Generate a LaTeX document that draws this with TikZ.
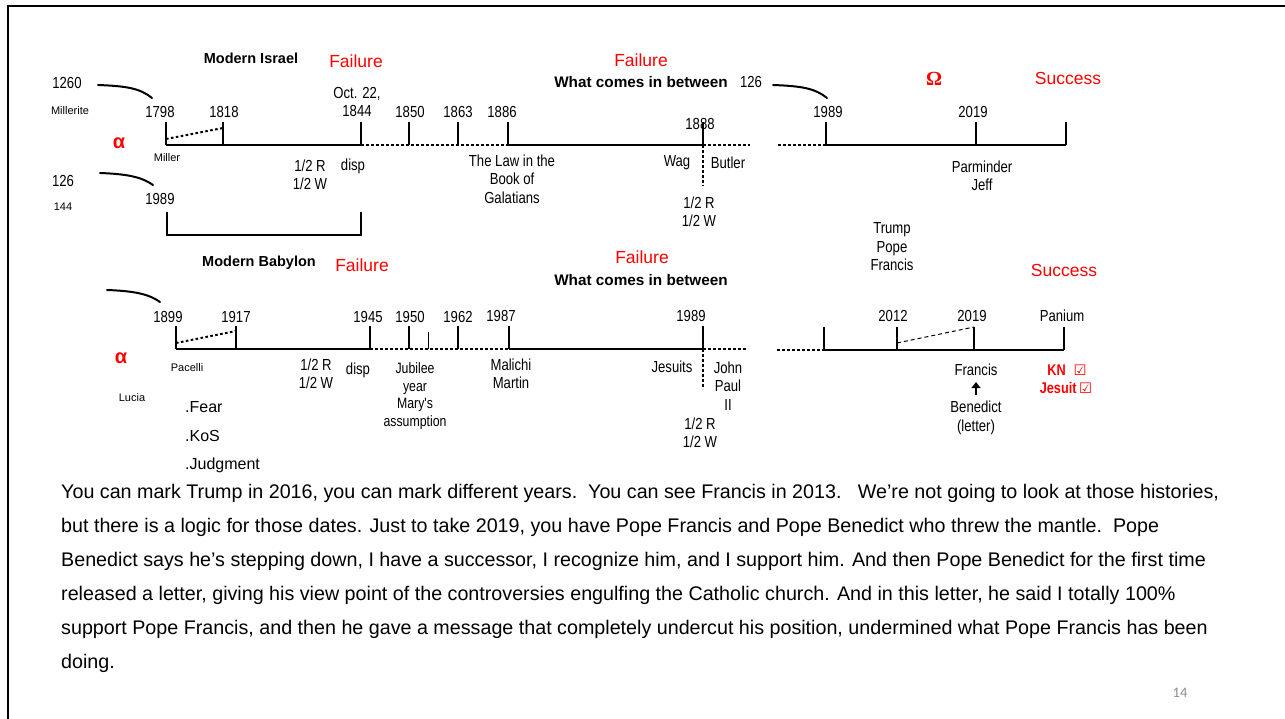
\documentclass[tikz,border=0pt]{standalone}
\usepackage{fontspec}
\usetikzlibrary{arrows.meta}
\setmainfont{Liberation Sans}
\newfontfamily\narrowfont[FakeStretch=0.82]{Liberation Sans}
\newfontfamily\symfont{DejaVu Sans}
\newfontfamily\omegafont{Liberation Serif}
\newfontfamily\pagefont{Carlito}
\definecolor{failred}{RGB}{255,0,0}
\definecolor{pagegray}{RGB}{140,140,140}

\begin{document}
\begin{tikzpicture}[x=1pt, y=-1pt,
        axis/.style={line width=2.6pt},
        gapline/.style={line width=2.4pt, dash pattern=on 2.6pt off 2.4pt},
        hand/.style={line width=2pt, line cap=round},
        yr/.style={font=\narrowfont\fontsize{16}{18.5}\selectfont, align=center, inner sep=0pt},
        tiny/.style={font=\fontsize{11}{13}\selectfont, inner sep=0pt},
        head/.style={font=\bfseries\fontsize{14.5}{17}\selectfont, inner sep=0pt},
        between/.style={font=\bfseries\fontsize{15.3}{17}\selectfont, inner sep=0pt},
        failword/.style={text=failred, font=\fontsize{17.5}{20}\selectfont, inner sep=0pt},
        greek/.style={text=failred, font=\bfseries\fontsize{20}{22}\selectfont, inner sep=0pt},
        point/.style={font=\fontsize{16}{18}\selectfont, inner sep=0pt, anchor=west},
        tally/.style={text=failred, font=\narrowfont\bfseries\fontsize{15.5}{18}\selectfont, inner sep=0pt},
        para/.style={font=\fontsize{19.7}{34}\selectfont, align=left, inner sep=0pt}]
    \useasboundingbox (0,0) rectangle (1285,719);
    \draw[line width=2.6pt] (8,719) -- (8,6) -- (1285,6);

    \coordinate (i1798) at (166,145);
    \coordinate (i1818) at (223,145);
    \coordinate (i1844) at (361,145);
    \coordinate (i1850) at (409,145);
    \coordinate (i1863) at (458,145);
    \coordinate (i1886) at (508,145);
    \coordinate (i1888) at (703,145);
    \coordinate (iOpen) at (750,145);
    \coordinate (iDrop) at (703,186);
    \coordinate (iGap)  at (778,145);
    \coordinate (i1989) at (826,145);
    \coordinate (i2019) at (976,145);
    \coordinate (iEnd)  at (1066,145);
    \coordinate (brA)   at (167,212);
    \coordinate (brB)   at (167,235);
    \coordinate (brC)   at (361,235);
    \coordinate (brD)   at (361,212);

    \coordinate (b1899) at (176,349);
    \coordinate (b1917) at (236,349);
    \coordinate (b1945) at (370,349);
    \coordinate (b1950) at (409,349);
    \coordinate (bMary) at (428,349);
    \coordinate (b1962) at (458,349);
    \coordinate (b1987) at (509,349);
    \coordinate (b1989) at (703,349);
    \coordinate (bOpen) at (748,349);
    \coordinate (bDrop) at (703,389);
    \coordinate (bGap)  at (777,350);
    \coordinate (bPan0) at (824,350);
    \coordinate (b2012) at (897,350);
    \coordinate (b2019) at (974,350);
    \coordinate (bEnd)  at (1064,350);

    \draw[axis] (i1798) -- (i1844);
    \draw[axis] (i1886) -- (i1888);
    \draw[axis] (i1989) -- (iEnd);
    \draw[gapline] (i1844) -- (i1886);
    \draw[gapline] (i1888) -- (iOpen);
    \draw[gapline] (i1888) -- (iDrop);
    \draw[gapline] (iGap) -- (i1989);
    \foreach \t in {i1798,i1818,i1844,i1850,i1863,i1886,i1888,i1989,i2019,iEnd}
        \draw[axis] (\t) -- ++(0,-23);
    \draw[gapline, line width=2pt] ([yshift=6pt]i1798) -- ([yshift=17pt]i1818);
    \draw[axis] (brA) -- (brB) -- (brC) -- (brD);

    \draw[axis] (b1899) -- (b1945);
    \draw[axis] (b1987) -- (b1989);
    \draw[axis] (bPan0) -- (bEnd);
    \draw[gapline] (b1945) -- (b1987);
    \draw[gapline] (b1989) -- (bOpen);
    \draw[gapline] (b1989) -- (bDrop);
    \draw[gapline] (bGap) -- (bPan0);
    \foreach \t in {b1899,b1917,b1945,b1950,b1962,b1987,b1989,bPan0,b2012,b2019,bEnd}
        \draw[axis] (\t) -- ++(0,-23);
    \draw[line width=1pt] (bMary) -- ++(0,-17);
    \draw[gapline, line width=2pt] ([yshift=6pt]b1899) -- ([yshift=18pt]b1917);
    \draw[line width=1pt, dash pattern=on 4pt off 3pt] ([yshift=7pt]b2012) -- ([yshift=23pt]b2019);

    \coordinate (hA1) at (98,85);
    \coordinate (hA2) at (152,98);
    \coordinate (hB1) at (100,173);
    \coordinate (hB2) at (153,185);
    \coordinate (hC1) at (773,85);
    \coordinate (hC2) at (827,98);
    \coordinate (hD1) at (107,290);
    \coordinate (hD2) at (160,302);
    \draw[hand] (hA1) .. controls (125,86) and (140,88) .. (hA2);
    \draw[hand] (hB1) .. controls (127,174) and (142,177) .. (hB2);
    \draw[hand] (hC1) .. controls (800,86) and (815,88) .. (hC2);
    \draw[hand] (hD1) .. controls (134,291) and (149,294) .. (hD2);

    \node[head]     (israel)  at (251,58)  {Modern Israel};
    \node[failword] (failI)   at (356,61)  {Failure};
    \node[failword] (failIm)  at (641,60)  {Failure};
    \node[between]  (betwI)   at (641,82)  {What comes in between};
    \node[greek, font=\omegafont\bfseries\fontsize{20}{22}\selectfont] (omega) at (934,79) {Ω};
    \node[failword] (succI)   at (1068,78) {Success};
    \node[yr]       (n1260)   at (67,83)   {1260};
    \node[tiny]     (mllrt)   at (70,111)  {Millerite};
    \node[greek]    (alphaI)  at (119,143) {α};
    \node[yr]       (t1798)   at (160,112) {1798};
    \node[yr]       (t1818)   at (224,112) {1818};
    \node[yr]       (t1844)   at (357,102) {Oct. 22,\\1844};
    \node[yr]       (t1850)   at (410,112) {1850};
    \node[yr]       (t1863)   at (458,112) {1863};
    \node[yr]       (t1886)   at (502,112) {1886};
    \node[yr]       (t1888)   at (700,124) {1888};
    \node[yr]       (n126)    at (751,82)  {126};
    \node[yr]       (t1989)   at (828,112) {1989};
    \node[yr]       (t2019)   at (973,112) {2019};
    \node[tiny]     (miller)  at (167,158) {Miller};
    \node[yr]       (halfI)   at (310,175) {1/2 R\\1/2 W};
    \node[yr]       (dispI)   at (353,166) {disp};
    \node[yr]       (galat)   at (512,179) {The Law in the\\Book of\\Galatians};
    \node[yr]       (wag)     at (677,163) {Wag};
    \node[yr]       (butler)  at (728,163) {Butler};
    \node[yr]       (halfIr)  at (699,212) {1/2 R\\1/2 W};
    \node[yr]       (parm)    at (982,176) {Parminder\\Jeff};
    \node[yr]       (n126b)   at (63,181)  {126};
    \node[yr]       (t1989b)  at (160,199) {1989};
    \node[tiny]     (n144)    at (63,207)  {144};

    \node[head]     (babylon) at (259,263) {Modern Babylon};
    \node[failword] (failB)   at (362,265) {Failure};
    \node[failword] (failBm)  at (642,257) {Failure};
    \node[between]  (betwB)   at (641,280) {What comes in between};
    \node[yr]       (trump)   at (892,247) {Trump\\Pope\\Francis};
    \node[failword] (succB)   at (1064,270) {Success};
    \node[yr]       (s1899)   at (168,317) {1899};
    \node[yr]       (s1917)   at (236,317) {1917};
    \node[yr]       (s1945)   at (368,317) {1945};
    \node[yr]       (s1950)   at (410,317) {1950};
    \node[yr]       (s1962)   at (458,317) {1962};
    \node[yr]       (s1987)   at (501,316) {1987};
    \node[yr]       (s1989)   at (691,316) {1989};
    \node[yr]       (s2012)   at (893,316) {2012};
    \node[yr]       (s2019)   at (972,316) {2019};
    \node[yr]       (panium)  at (1062,316) {Panium};
    \node[greek]    (alphaB)  at (121,358) {α};
    \node[tiny]     (pacelli) at (187,368) {Pacelli};
    \node[tiny]     (lucia)   at (132,398) {Lucia};
    \node[yr]       (halfB)   at (316,374) {1/2 R\\1/2 W};
    \node[yr]       (dispB)   at (358,370) {disp};
    \node[yr, font=\narrowfont\fontsize{15}{17.7}\selectfont] (jubilee) at (415,396) {Jubilee\\year\\Mary's\\assumption};
    \node[point]    (fear)    at (185,407) {.Fear};
    \node[point]    (kos)     at (185,436) {.KoS};
    \node[point]    (judg)    at (185,465) {.Judgment};
    \node[yr]       (malichi) at (511,374) {Malichi\\Martin};
    \node[yr]       (jesuits) at (672,367) {Jesuits};
    \node[yr]       (jpii)    at (728,386) {John\\Paul\\II};
    \node[yr]       (halfBr)  at (700,433) {1/2 R\\1/2 W};
    \node[yr]       (francis) at (976,370) {Francis};
    \node[yr]       (bened)   at (976,418) {Benedict\\(letter)};
    \node[tally]    (kn)      at (1067,370) {KN\enspace{\symfont\mdseries\fontsize{14.5}{15}\selectfont ☑}};
    \node[tally]    (jesuit)  at (1066,388) {Jesuit\,{\symfont\mdseries\fontsize{14.5}{15}\selectfont ☑}};
    \draw[-{Triangle[width=9pt,length=6pt]}, line width=2.2pt, shorten <=6pt, shorten >=6pt] (bened.north) -- (francis.south);

    \node[para, anchor=north west] (talk) at (61,484) {You can mark Trump in 2016, you can mark different years.\ \ You can see Francis in 2013.\ \ \ We’re not going to look at those histories,\\
but there is a logic for those dates. Just to take 2019, you have Pope Francis and Pope Benedict who threw the mantle.\ \ Pope\\
Benedict says he’s stepping down, I have a successor, I recognize him, and I support him. And then Pope Benedict for the first time\\
released a letter, giving his view point of the controversies engulfing the Catholic church. And in this letter, he said I totally 100\%\\
support Pope Francis, and then he gave a message that completely undercut his position, undermined what Pope Francis has been\\
doing.};
    \node[text=pagegray, font=\pagefont\fontsize{14.5}{16}\selectfont, inner sep=0pt] (page) at (1180,693) {14};
\end{tikzpicture}
\end{document}
